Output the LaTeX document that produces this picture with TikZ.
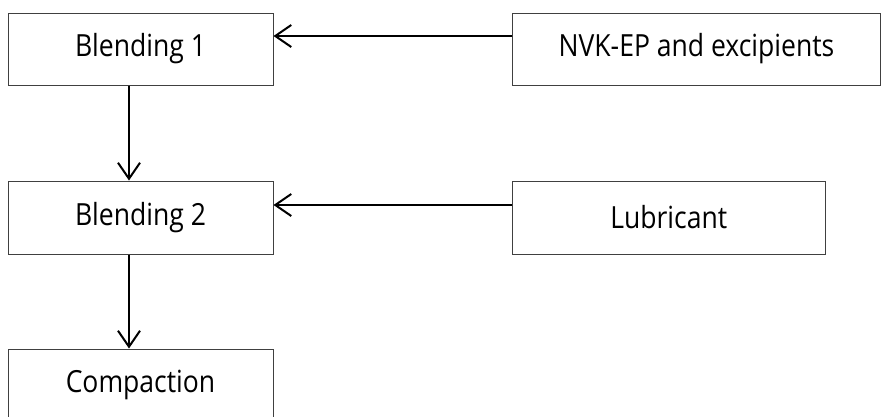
\documentclass[tikz,border=0pt]{standalone}
\usepackage{fontspec}
\setmainfont[FakeStretch=0.87]{Open Sans}
\usetikzlibrary{arrows.meta}

\begin{document}
\begin{tikzpicture}[x=1pt,y=-1pt,
	stage/.style={draw=black!75, line width=1pt, fill=white, inner sep=0pt,
		minimum height=72pt, font=\fontsize{30.5}{36}\selectfont},
	flow/.style={-{Straight Barb[length=16pt,width=22pt,line width=2pt]}, line width=2pt}]
\clip (0,0) rectangle (881,416);

\node[stage, minimum width=265pt] (blend1) at (140.5,49) {Blending 1};
\node[stage, minimum width=368pt] (nvk) at (696.5,49) {NVK-EP and excipients};
\node[stage, minimum width=265pt, minimum height=73pt] (blend2) at (140.5,217.5) {Blending 2};
\node[stage, minimum width=312.5pt, minimum height=73pt] (lub) at (668.75,217.5) {Lubricant};
\node[stage, minimum width=265pt] (comp) at (140.5,385) {Compaction};

\draw[flow] ([yshift=13pt]nvk.west) -- ([yshift=13pt]blend1.east);
\draw[flow] ([yshift=12.5pt]lub.west) -- ([yshift=12.5pt]blend2.east);
\draw[flow] ([xshift=-11.5pt]blend1.south) -- ([xshift=-11.5pt]blend2.north);
\draw[flow] ([xshift=-11.5pt]blend2.south) -- ([xshift=-11.5pt]comp.north);

\end{tikzpicture}
\end{document}
